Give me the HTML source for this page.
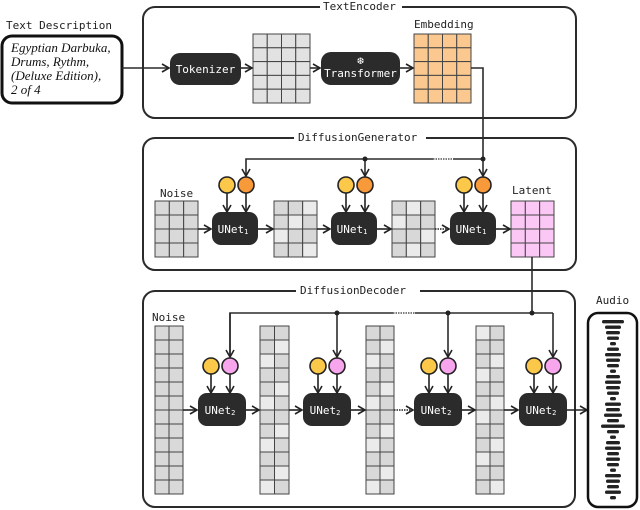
<!DOCTYPE html>
<html><head><meta charset="utf-8"><style>
html,body{margin:0;padding:0;background:#fff;width:640px;height:510px;overflow:hidden}
svg{display:block}
.m{font-family:"DejaVu Sans Mono","Liberation Mono",monospace;font-size:11px;fill:#222}
.u{font-family:"DejaVu Sans Mono","Liberation Mono",monospace;font-size:11px;fill:#fff}
</style></head><body>
<svg id="s" width="640" height="510" viewBox="0 0 640 510" xmlns="http://www.w3.org/2000/svg">
<defs>
<marker id="a" markerWidth="10" markerHeight="10" refX="8" refY="5" orient="auto" markerUnits="userSpaceOnUse">
<path d="M1,1 L8,5 L1,9" fill="none" stroke="#222" stroke-width="1.6"/></marker>
</defs>
<g fill="none" stroke="#2b2b2b" stroke-width="2">
<rect x="143" y="7" width="433" height="111" rx="12"/>
<rect x="143" y="138" width="433" height="132" rx="12"/>
<rect x="143" y="291" width="432" height="216" rx="12"/>
</g>
<rect x="320" y="0" width="82" height="12" fill="#fff"/>
<rect x="294" y="131" width="132" height="12" fill="#fff"/>
<rect x="296" y="284" width="124" height="12" fill="#fff"/>
<text class="m" x="323" y="10">TextEncoder</text>
<text class="m" x="298" y="141">DiffusionGenerator</text>
<text class="m" x="300" y="294">DiffusionDecoder</text>
<text class="m" x="6" y="29">Text Description</text>
<rect x="2" y="36" width="120" height="67" rx="10" fill="#fff" stroke="#111" stroke-width="3"/>
<g font-family="'Liberation Serif',serif" font-style="italic" font-size="13" fill="#111">
<text x="11" y="52">Egyptian Darbuka,</text><text x="11" y="66">Drums, Rythm,</text>
<text x="11" y="80">(Deluxe Edition),</text><text x="11" y="94">2 of 4</text></g>
<g id="g"></g>
<g stroke="#2b2b2b" stroke-width="1.6" fill="none" id="ln">
<line x1="122" y1="68" x2="169" y2="68" marker-end="url(#a)"/>
<line x1="241" y1="68" x2="252" y2="68" marker-end="url(#a)"/>
<line x1="310" y1="68" x2="320" y2="68" marker-end="url(#a)"/>
<line x1="400" y1="68" x2="413" y2="68" marker-end="url(#a)"/>
<polyline points="471,68 483,68 483,159"/>
<polyline points="483,159 246,159 246,176" marker-end="url(#a)"/>
<line x1="365" y1="159" x2="365" y2="176" marker-end="url(#a)"/>
<line x1="483" y1="159" x2="483" y2="176" marker-end="url(#a)"/>
<line x1="532" y1="257" x2="532" y2="313"/>
<polyline points="553,313 230,313 230,357"/>
<line x1="230" y1="313" x2="230" y2="357" marker-end="url(#a)"/>
<line x1="337" y1="313" x2="337" y2="357" marker-end="url(#a)"/>
<line x1="448" y1="313" x2="448" y2="357" marker-end="url(#a)"/>
<line x1="553" y1="313" x2="553" y2="357" marker-end="url(#a)"/>
</g>
<rect x="433" y="157" width="20" height="4" fill="#fff"/>
<line x1="433" y1="159" x2="453" y2="159" stroke="#555" stroke-width="1.6" stroke-dasharray="1.5,1"/>
<rect x="393" y="311" width="22" height="4" fill="#fff"/>
<line x1="393" y1="313" x2="415" y2="313" stroke="#555" stroke-width="1.6" stroke-dasharray="1.5,1"/>
<g fill="#222"><circle cx="365" cy="159" r="2.5"/><circle cx="483" cy="159" r="2.5"/>
<circle cx="337" cy="313" r="2.5"/><circle cx="448" cy="313" r="2.5"/><circle cx="532" cy="313" r="2.5"/></g>
<text class="m" x="414" y="28">Embedding</text>
<text class="m" x="160" y="197">Noise</text>
<text class="m" x="512" y="194">Latent</text>
<text class="m" x="152" y="321">Noise</text>
<text class="m" x="596" y="304">Audio</text>
<rect x="588" y="313" width="49" height="194" rx="10" fill="#fff" stroke="#111" stroke-width="2.5"/>
<g id="bars" fill="#222"></g>
<rect x="170" y="53" width="71" height="32" rx="10" fill="#2b2b2b"/>
<text class="u" x="205.5" y="73" text-anchor="middle">Tokenizer</text>
<rect x="321" y="52" width="79" height="33" rx="10" fill="#2b2b2b"/>
<text class="u" x="360.5" y="64" text-anchor="middle" font-size="9">❆</text>
<text class="u" x="360.5" y="77" text-anchor="middle">Transformer</text>
</svg>
<script>
var S="http://www.w3.org/2000/svg",g=document.getElementById('g');
function el(t,a,p){var e=document.createElementNS(S,t);for(var k in a)e.setAttribute(k,a[k]);(p||g).appendChild(e);return e;}
function grid(x,y,w,h,c,r,fill){var cw=w/c,rh=h/r;for(var i=0;i<c;i++)for(var j=0;j<r;j++){var f=typeof fill=='function'?fill(i,j):fill;el('rect',{x:x+i*cw,y:y+j*rh,width:cw,height:rh,fill:f,stroke:'#444','stroke-width':1});}}
function rnd(i,j,s){return ((i*7+j*13+s)%3==0)?'#ebebeb':'#d8d8d8';}
grid(253,34,57,69,4,5,'#e2e2e2');
grid(414,34,57,69,4,5,'#fbc98f');
grid(155,201,43,56,3,4,'#d9d9d9');
grid(274,201,43,56,3,4,function(i,j){return rnd(i,j,1)});
grid(392,201,43,56,3,4,function(i,j){return rnd(i,j,2)});
grid(511,201,43,56,3,4,'#fbc8f5');
grid(155,326,28,168,2,12,'#d9d9d9');
grid(260,326,29,168,2,12,function(i,j){return rnd(i,j,4)});
grid(366,326,28,168,2,12,function(i,j){return rnd(i,j+1,0)});
grid(476,326,28,168,2,12,function(i,j){return rnd(i+1,j,2)});
function unet(x,y,w,sub,cy1,cx,col2){
 el('rect',{x:x,y:y,width:w,height:33,rx:9,fill:'#2b2b2b'});
 var t=el('text',{x:x+w/2-2,y:y+21,'class':'u','text-anchor':'middle'});t.textContent='UNet';
 var s=el('tspan',{'font-size':'7',dy:'1'},t);s.textContent=sub;
 el('line',{x1:cx-19,y1:cy1+8,x2:cx-19,y2:y,stroke:'#222','stroke-width':1.6,'marker-end':'url(#a)'});
 el('line',{x1:cx,y1:cy1+8,x2:cx,y2:y,stroke:'#222','stroke-width':1.6,'marker-end':'url(#a)'});
 el('circle',{cx:cx-19,cy:cy1,r:8,fill:'#fcc84a',stroke:'#222','stroke-width':1.6});
 el('circle',{cx:cx,cy:cy1,r:8,fill:col2,stroke:'#222','stroke-width':1.6});
}
[[212,246],[331,365],[450,483]].forEach(function(p){unet(p[0],212,46,'1',185,p[1],'#f89a3a');});
[[198,230],[303,337],[414,448],[519,553]].forEach(function(p){unet(p[0],393,48,'2',366,p[1],'#f7a6ee');});
function ar(x1,y1,x2,y2,d){var e=el('line',{x1:x1,y1:y1,x2:x2,y2:y2,stroke:'#222','stroke-width':1.6,'marker-end':'url(#a)'});if(d)e.setAttribute('stroke-dasharray','1.5,1');}
ar(198,229,211,229);ar(258,229,273,229);ar(317,229,330,229);ar(377,229,391,229);ar(435,229,449,229,1);ar(496,229,510,229);
ar(183,410,197,410);ar(246,410,259,410);ar(289,410,302,410);ar(351,410,365,410);ar(394,410,413,410,1);ar(462,410,475,410);ar(504,410,518,410);ar(567,410,587,410);
var W=[22,16,14,12,6,12,16,14,12,6,14,16,14,12,6,16,14,18,12,24,12,6,14,16,12,14,12,6,16,14,12,16,6];
var B=document.getElementById('bars');
W.forEach(function(w,i){el('rect',{x:613-w/2,y:320+i*5.5,width:w,height:3.4,rx:1.7},B);});
</script>
</body></html>
